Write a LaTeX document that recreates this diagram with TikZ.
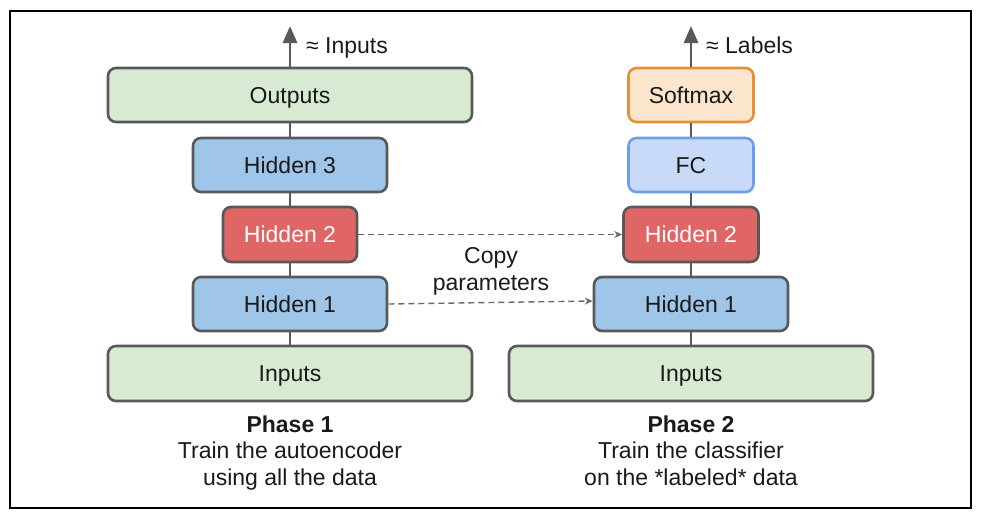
\documentclass[tikz,border=0pt]{standalone}
\usepackage{fontspec}
\setmainfont{Liberation Sans}
\usetikzlibrary{arrows.meta}
\definecolor{boxline}{HTML}{595959}
\definecolor{lgreen}{HTML}{D9EAD3}
\definecolor{lblue}{HTML}{9FC5E8}
\definecolor{lred}{HTML}{E06666}
\definecolor{lorange}{HTML}{FCE5CD}
\definecolor{dorange}{HTML}{E69138}
\definecolor{fcfill}{HTML}{C9DAF8}
\definecolor{fcline}{HTML}{6D9EEB}
\definecolor{txt}{HTML}{1A1A1A}
\tikzset{
  layer/.style={draw=boxline, line width=2.6pt, rounded corners=8pt, minimum height=54pt,
    font=\fontsize{23}{27}\selectfont, text=txt, inner sep=0pt, text height=16.5pt, text depth=0pt},
  greenbox/.style={layer, fill=lgreen},
  bluebox/.style={layer, fill=lblue},
  redbox/.style={layer, fill=lred, text=white},
  orangebox/.style={layer, fill=lorange, draw=dorange},
  fcbox/.style={layer, fill=fcfill, draw=fcline},
  link/.style={draw=boxline, line width=2.8pt},
  outarrow/.style={link, -{Triangle[length=17pt,width=14pt]}},
  copyarrow/.style={draw=boxline!90, line width=1.4pt, dash pattern=on 6pt off 4pt, -{Stealth[length=8pt,width=7pt]}},
  lbl/.style={font=\fontsize{23}{27}\selectfont, text=txt, inner sep=0pt, anchor=base}
}
\begin{document}
\begin{tikzpicture}[x=1pt,y=-1pt]
\useasboundingbox (0,0) rectangle (984,520);
\draw[line width=1.4pt] (10,11) rectangle (971,508);
% left stack
\node[greenbox, minimum width=364pt] (outL) at (290,95) {Outputs};
\node[bluebox, minimum width=194pt] (h3L) at (290,165) {Hidden 3};
\node[redbox, minimum width=134pt, minimum height=55pt] (h2L) at (290,234.5) {Hidden 2};
\node[bluebox, minimum width=194pt] (h1L) at (290,304) {Hidden 1};
\node[greenbox, minimum width=364pt, minimum height=55pt] (inL) at (290,373.5) {Inputs};
\coordinate (topL) at (290,26);
% right stack
\node[orangebox, minimum width=125pt] (smR) at (691,95) {Softmax};
\node[fcbox, minimum width=125pt] (fcR) at (691,165) {FC};
\node[redbox, minimum width=135pt, minimum height=55pt] (h2R) at (691,234.5) {Hidden 2};
\node[bluebox, minimum width=194pt] (h1R) at (691,304) {Hidden 1};
\node[greenbox, minimum width=364pt, minimum height=55pt] (inR) at (691,373.5) {Inputs};
\coordinate (topR) at (691,26);
% links
\draw[link] (inL.north) -- (h1L.south);
\draw[link] (h1L.north) -- (h2L.south);
\draw[link] (h2L.north) -- (h3L.south);
\draw[link] (h3L.north) -- (outL.south);
\draw[outarrow] (outL.north) -- (topL);
\draw[link] (inR.north) -- (h1R.south);
\draw[link] (h1R.north) -- (h2R.south);
\draw[link] (h2R.north) -- (fcR.south);
\draw[link] (fcR.north) -- (smR.south);
\draw[outarrow] (smR.north) -- (topR);
\node[lbl, anchor=base west] (apL) at (306,53.5) {≈ Inputs};
\node[lbl, anchor=base west] (apR) at (706,53.5) {≈ Labels};
% copy arrows
\draw[copyarrow] (h2L.east) -- (h2R.west);
\draw[copyarrow] (h1L.east) -- ([yshift=3pt]h1R.west);
\node[lbl] (copy1) at (491,263.5) {Copy};
\node[lbl] (copy2) at (491,290) {parameters};
% captions
\node[lbl] (ph1a) at (290,432) {\textbf{Phase 1}};
\node[lbl] (ph1b) at (290,458.5) {Train the autoencoder};
\node[lbl] (ph1c) at (290,485) {using all the data};
\node[lbl] (ph2a) at (691,432) {\textbf{Phase 2}};
\node[lbl] (ph2b) at (691,458.5) {Train the classifier};
\node[lbl] (ph2c) at (691,485) {on the *labeled* data};
\end{tikzpicture}
\end{document}
